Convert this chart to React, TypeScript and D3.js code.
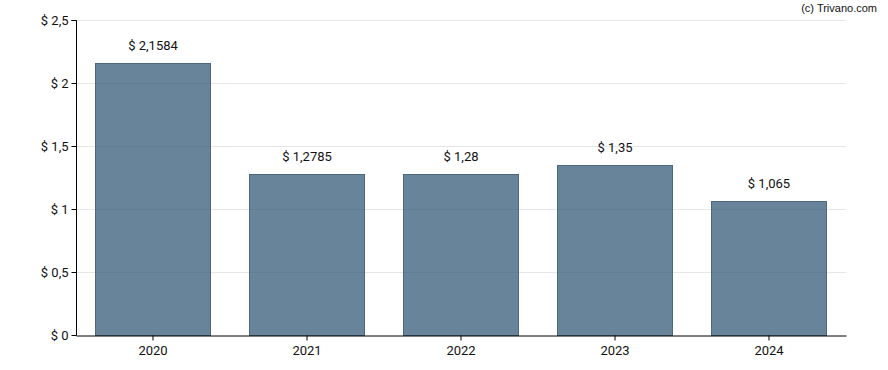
import { useEffect, useRef } from 'react';
import * as d3 from 'd3';

const years = ['2020', '2021', '2022', '2023', '2024'];
const dividends = [2.1584, 1.2785, 1.28, 1.35, 1.065];
const labels = ['$ 2,1584', '$ 1,2785', '$ 1,28', '$ 1,35', '$ 1,065'];
const yTicks = [0, 0.5, 1, 1.5, 2, 2.5];

const fmt = (v: number) => '$ ' + String(v).replace('.', ',');

export default function App() {
  const ref = useRef<SVGSVGElement>(null);

  useEffect(() => {
    const svg = d3.select(ref.current);
    svg.selectAll('*').remove();

    const left = 76, right = 846, top = 20, bottom = 335;
    const x = d3.scaleBand().domain(years).range([left, right]).paddingInner(0.25).paddingOuter(0.125);
    const y = d3.scaleLinear().domain([0, 2.5]).range([bottom, top]);

    // grid
    svg.append('g')
      .selectAll('line')
      .data(yTicks.slice(1))
      .join('line')
      .attr('x1', left).attr('x2', right)
      .attr('y1', (d) => y(d) + 0.5).attr('y2', (d) => y(d) + 0.5)
      .attr('stroke', '#e6e6e6').attr('stroke-width', 1);

    // bars
    svg.append('g')
      .selectAll('rect')
      .data(dividends)
      .join('rect')
      .attr('x', (_, i) => Math.round(x(years[i])!) + 0.5)
      .attr('y', (d) => Math.round(y(d)) + 0.5)
      .attr('width', Math.floor(x.bandwidth()))
      .attr('height', (d) => bottom - Math.round(y(d)))
      .attr('fill', '#2e5473')
      .attr('fill-opacity', 0.72)
      .attr('stroke', '#4d687c')
      .attr('stroke-width', 1);

    // value labels
    svg.append('g')
      .selectAll('text')
      .data(dividends)
      .join('text')
      .attr('x', (_, i) => x(years[i])! + x.bandwidth() / 2)
      .attr('y', (d) => y(d) - 13)
      .attr('text-anchor', 'middle')
      .attr('font-family', 'Roboto, sans-serif')
      .attr('font-size', 13)
      .attr('fill', '#111')
      .text((_, i) => labels[i]);

    // y axis
    const yAxis = svg.append('g')
      .attr('transform', `translate(${left + 0.5},0)`)
      .call(d3.axisLeft(y).tickValues(yTicks).tickSize(5).tickPadding(3).tickFormat((d) => fmt(d as number)));
    yAxis.selectAll('text').attr('font-family', 'Roboto, sans-serif').attr('font-size', 13).attr('fill', '#111');
    yAxis.select('.domain').attr('d', `M-5,${top + 0.5}H0V${bottom + 0.5}`).attr('stroke', '#000');
    yAxis.selectAll('.tick line').attr('stroke', '#000');

    // x axis
    const xAxis = svg.append('g')
      .attr('transform', `translate(0,${bottom + 0.5})`)
      .call(d3.axisBottom(x).tickSize(5).tickPadding(5).tickSizeOuter(0));
    xAxis.selectAll('text').attr('font-family', 'Roboto, sans-serif').attr('font-size', 13).attr('fill', '#111');
    xAxis.selectAll('.domain, .tick line').attr('stroke', '#000');

    // watermark
    svg.append('text')
      .attr('x', 877).attr('y', 12)
      .attr('text-anchor', 'end')
      .attr('font-family', 'Liberation Sans, Arial, sans-serif')
      .attr('font-size', 11)
      .attr('fill', '#111')
      .text('(c) Trivano.com');
  }, []);

  return (
    <svg ref={ref} width={888} height={370} style={{ position: 'absolute', left: 0, top: 0 }} />
  );
}
